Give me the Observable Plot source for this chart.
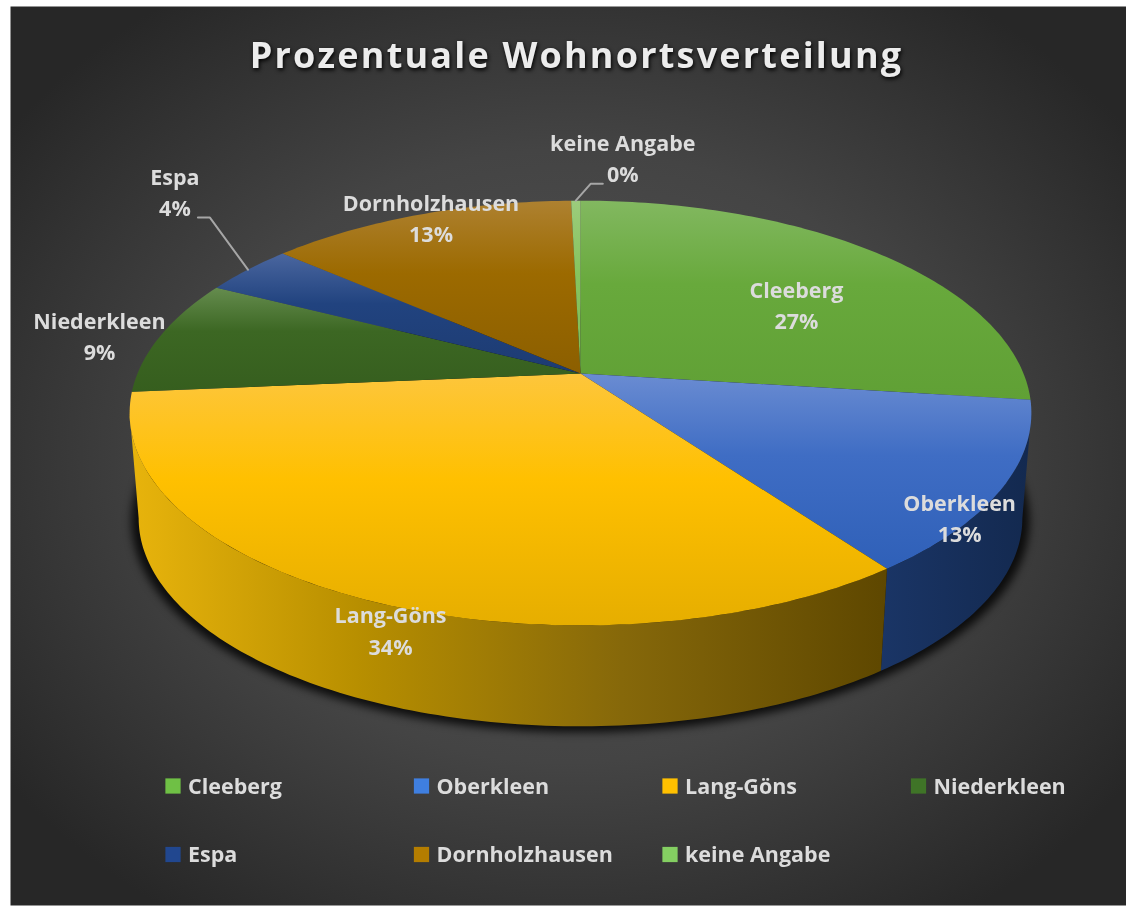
<!DOCTYPE html>
<html lang="de">
<head>
<meta charset="utf-8">
<style>
  html, body { margin: 0; padding: 0; background: #fff; overflow: hidden; }
  svg { display: block; }
</style>
<script src="https://cdn.jsdelivr.net/npm/d3@7"></script>
<script src="https://cdn.jsdelivr.net/npm/@observablehq/plot@0.6"></script>
</head>
<body>
<div id="chart"></div>
<script>
// ---- data ----
const titleText = "Prozentuale Wohnortsverteilung";
const places = ["Cleeberg", "Oberkleen", "Lang-Göns", "Niederkleen", "Espa", "Dornholzhausen", "keine Angabe"];
const shares = [27, 13, 33.6, 8.9, 3.9, 13.2, 0.4];

// ---- styles ----
const topLight = ["#82b860", "#6a8cd2", "#fdc63c", "#658c4e", "#4a669f", "#ae8130", "#9ccc7c"];
const topBase  = ["#68a93c", "#3f6dc4", "#ffc000", "#3c6723", "#21437f", "#9c6a00", "#86c45e"];
const topDark  = ["#60a035", "#2f60b8", "#e6ae00", "#365e1e", "#1d3b72", "#8c5f00", "#80bd58"];
const sideStops = {
  1: [[0, "#1a3566"], [1, "#13294f"]],
  2: [[0, "#e8b40c"], [0.3, "#b88f00"], [0.65, "#86680a"], [1, "#5e4700"]]
};
const swatchFill = ["#6fc045", "#3f7fe0", "#ffc000", "#3f7427", "#21478f", "#b47d00", "#84cf62"];

// ---- layout ----
const W = 1126, H = 908;
const hub = {x: 580, y: 373, R: 443, K: 0.186, V: 205};
const floor = {x: 580, y: 479, scale: 0.98};
const labelFont = "'Open Sans', sans-serif";
const labelShift = [[-80, 51], [-42, 28], [31, 31], [-61, -1.5], [-73, -79], [12, 2], [47, -44]];
const leaderBend = {4: [[-38, -52], [-50, -52]], 6: [[15, -17], [27, -17]]};
const legendCols = [172.5, 421, 669.5, 918];
const legendRows = [785.5, 854];
const legendTextDy = [-1.5, -2.5];
const legendSlots = [[0, 0], [1, 0], [2, 0], [3, 0], [0, 1], [1, 1], [2, 1]];

// ---- geometry from the shares ----
const total = d3.sum(shares);
const cum = d3.cumsum(shares).map(v => (v / total) * 360);
const start = i => (i === 0 ? 0 : cum[i - 1]);
const edgeRight = (Math.acos(-hub.K) * 180) / Math.PI;   // where the rim is widest on the right
const edgeLeft = 360 - edgeRight;                        // and on the left
function project(deg, base = hub, scale = 1) {
  const t = (deg * Math.PI) / 180;
  const X = Math.sin(t), Y = -Math.cos(t), w = 1 - hub.K * Y;
  return {x: base.x + (scale * hub.R * X) / w, y: base.y + (scale * hub.V * Y) / w};
}
function arc(a0, a1, base, scale) {
  const n = Math.max(2, Math.ceil(Math.abs(a1 - a0)));
  return d3.range(n + 1).map(k => project(a0 + ((a1 - a0) * k) / n, base, scale));
}
const topFace = i => [{x: hub.x, y: hub.y}, ...arc(start(i), cum[i], hub, 1)];
const sideFace = i => {
  const a0 = Math.max(start(i), edgeRight), a1 = Math.min(cum[i], edgeLeft);
  return [...arc(a0, a1, hub, 1), ...arc(a1, a0, floor, floor.scale)];
};
const mid = i => (start(i) + cum[i]) / 2;
const rim = i => project(mid(i));

const poly = (pts, fill, extra = {}) =>
  Plot.line(pts, {x: "x", y: "y", fill, stroke: "none", ...extra});

// gradients
function defsMark() {
  const defs = d3.create("svg:defs");
  const bg = defs.append("radialGradient").attr("id", "bg").attr("cx", "50%").attr("cy", "50%").attr("r", "62%");
  [[0, "#555555"], [0.55, "#444444"], [1, "#272727"]].forEach(([o, c]) =>
    bg.append("stop").attr("offset", o).attr("stop-color", c));
  places.forEach((_, i) => {
    const g = defs.append("linearGradient").attr("id", `top${i}`).attr("x1", 0).attr("x2", 0).attr("y1", 0).attr("y2", 1);
    [[0, topLight[i]], [0.42, topBase[i]], [1, topDark[i]]].forEach(([o, c]) =>
      g.append("stop").attr("offset", o).attr("stop-color", c));
  });
  Object.entries(sideStops).forEach(([i, stops]) => {
    const g = defs.append("linearGradient").attr("id", `side${i}`).attr("x1", 0).attr("x2", 1).attr("y1", 0).attr("y2", 0);
    stops.forEach(([o, c]) => g.append("stop").attr("offset", o).attr("stop-color", c));
  });
  return defs.node();
}

const textBase = {
  fontFamily: labelFont, fontSize: 21.5, fontWeight: 700, fill: "#dcdcdc", lineHeight: 1.45,
  imageFilter: "blur(0.4px)"
};

const plot = Plot.plot({
  width: W, height: H,
  margin: 0,
  x: {domain: [0, W], range: [0, W], axis: null},
  y: {domain: [0, H], range: [0, H], axis: null},
  style: {background: "#fff"},
  marks: [
    defsMark,
    Plot.frame({fill: "url(#bg)", stroke: "none", insetLeft: 10, insetTop: 6, insetBottom: 3}),
    Plot.text([titleText], {
      frameAnchor: "top", dx: 13, dy: 56, lineAnchor: "middle",
      fontFamily: labelFont, fontSize: 36, fontWeight: 700, fill: "#ececec",
      imageFilter: "drop-shadow(1px 2px 2px #000) blur(0.3px)"
    }),
    // shadow under the pie
    poly(arc(0, 360, {x: floor.x, y: floor.y + 2}, floor.scale + 0.016), "#000", {fillOpacity: 0.8, imageFilter: "blur(4px)"}),
    // side walls
    ...[1, 2].map(i => poly(sideFace(i), `url(#side${i})`)),
    // top faces
    ...places.map((_, i) => poly(topFace(i), `url(#top${i})`)),
    // leader lines
    ...Object.entries(leaderBend).map(([i, bends]) =>
      Plot.line(
        [rim(+i), ...bends.map(([dx, dy]) => ({x: rim(+i).x + dx, y: rim(+i).y + dy}))],
        {x: "x", y: "y", stroke: "#a6a6a6", strokeWidth: 2, curve: "linear"}
      )),
    // data labels
    ...places.map((p, i) => Plot.text([`${p}\n${Math.round(shares[i])}%`], {
      x: () => rim(i).x, y: () => rim(i).y,
      dx: labelShift[i][0], dy: labelShift[i][1], ...textBase
    })),
    // legend
    ...places.map((p, i) => {
      const [c, r] = legendSlots[i];
      return Plot.dot([p], {
        x: () => legendCols[c], y: () => legendRows[r], symbol: "square", r: 8.6,
        fill: swatchFill[i], stroke: "none"
      });
    }),
    ...places.map((p, i) => {
      const [c, r] = legendSlots[i];
      return Plot.text([p], {
        x: () => legendCols[c], y: () => legendRows[r], dx: 15, dy: legendTextDy[r], textAnchor: "start", ...textBase
      });
    })
  ]
});
plot.querySelectorAll("text").forEach(t => {
  if (t.textContent === titleText) t.style.letterSpacing = "2.2px";
});
document.getElementById("chart").append(plot);
</script>
</body>
</html>
